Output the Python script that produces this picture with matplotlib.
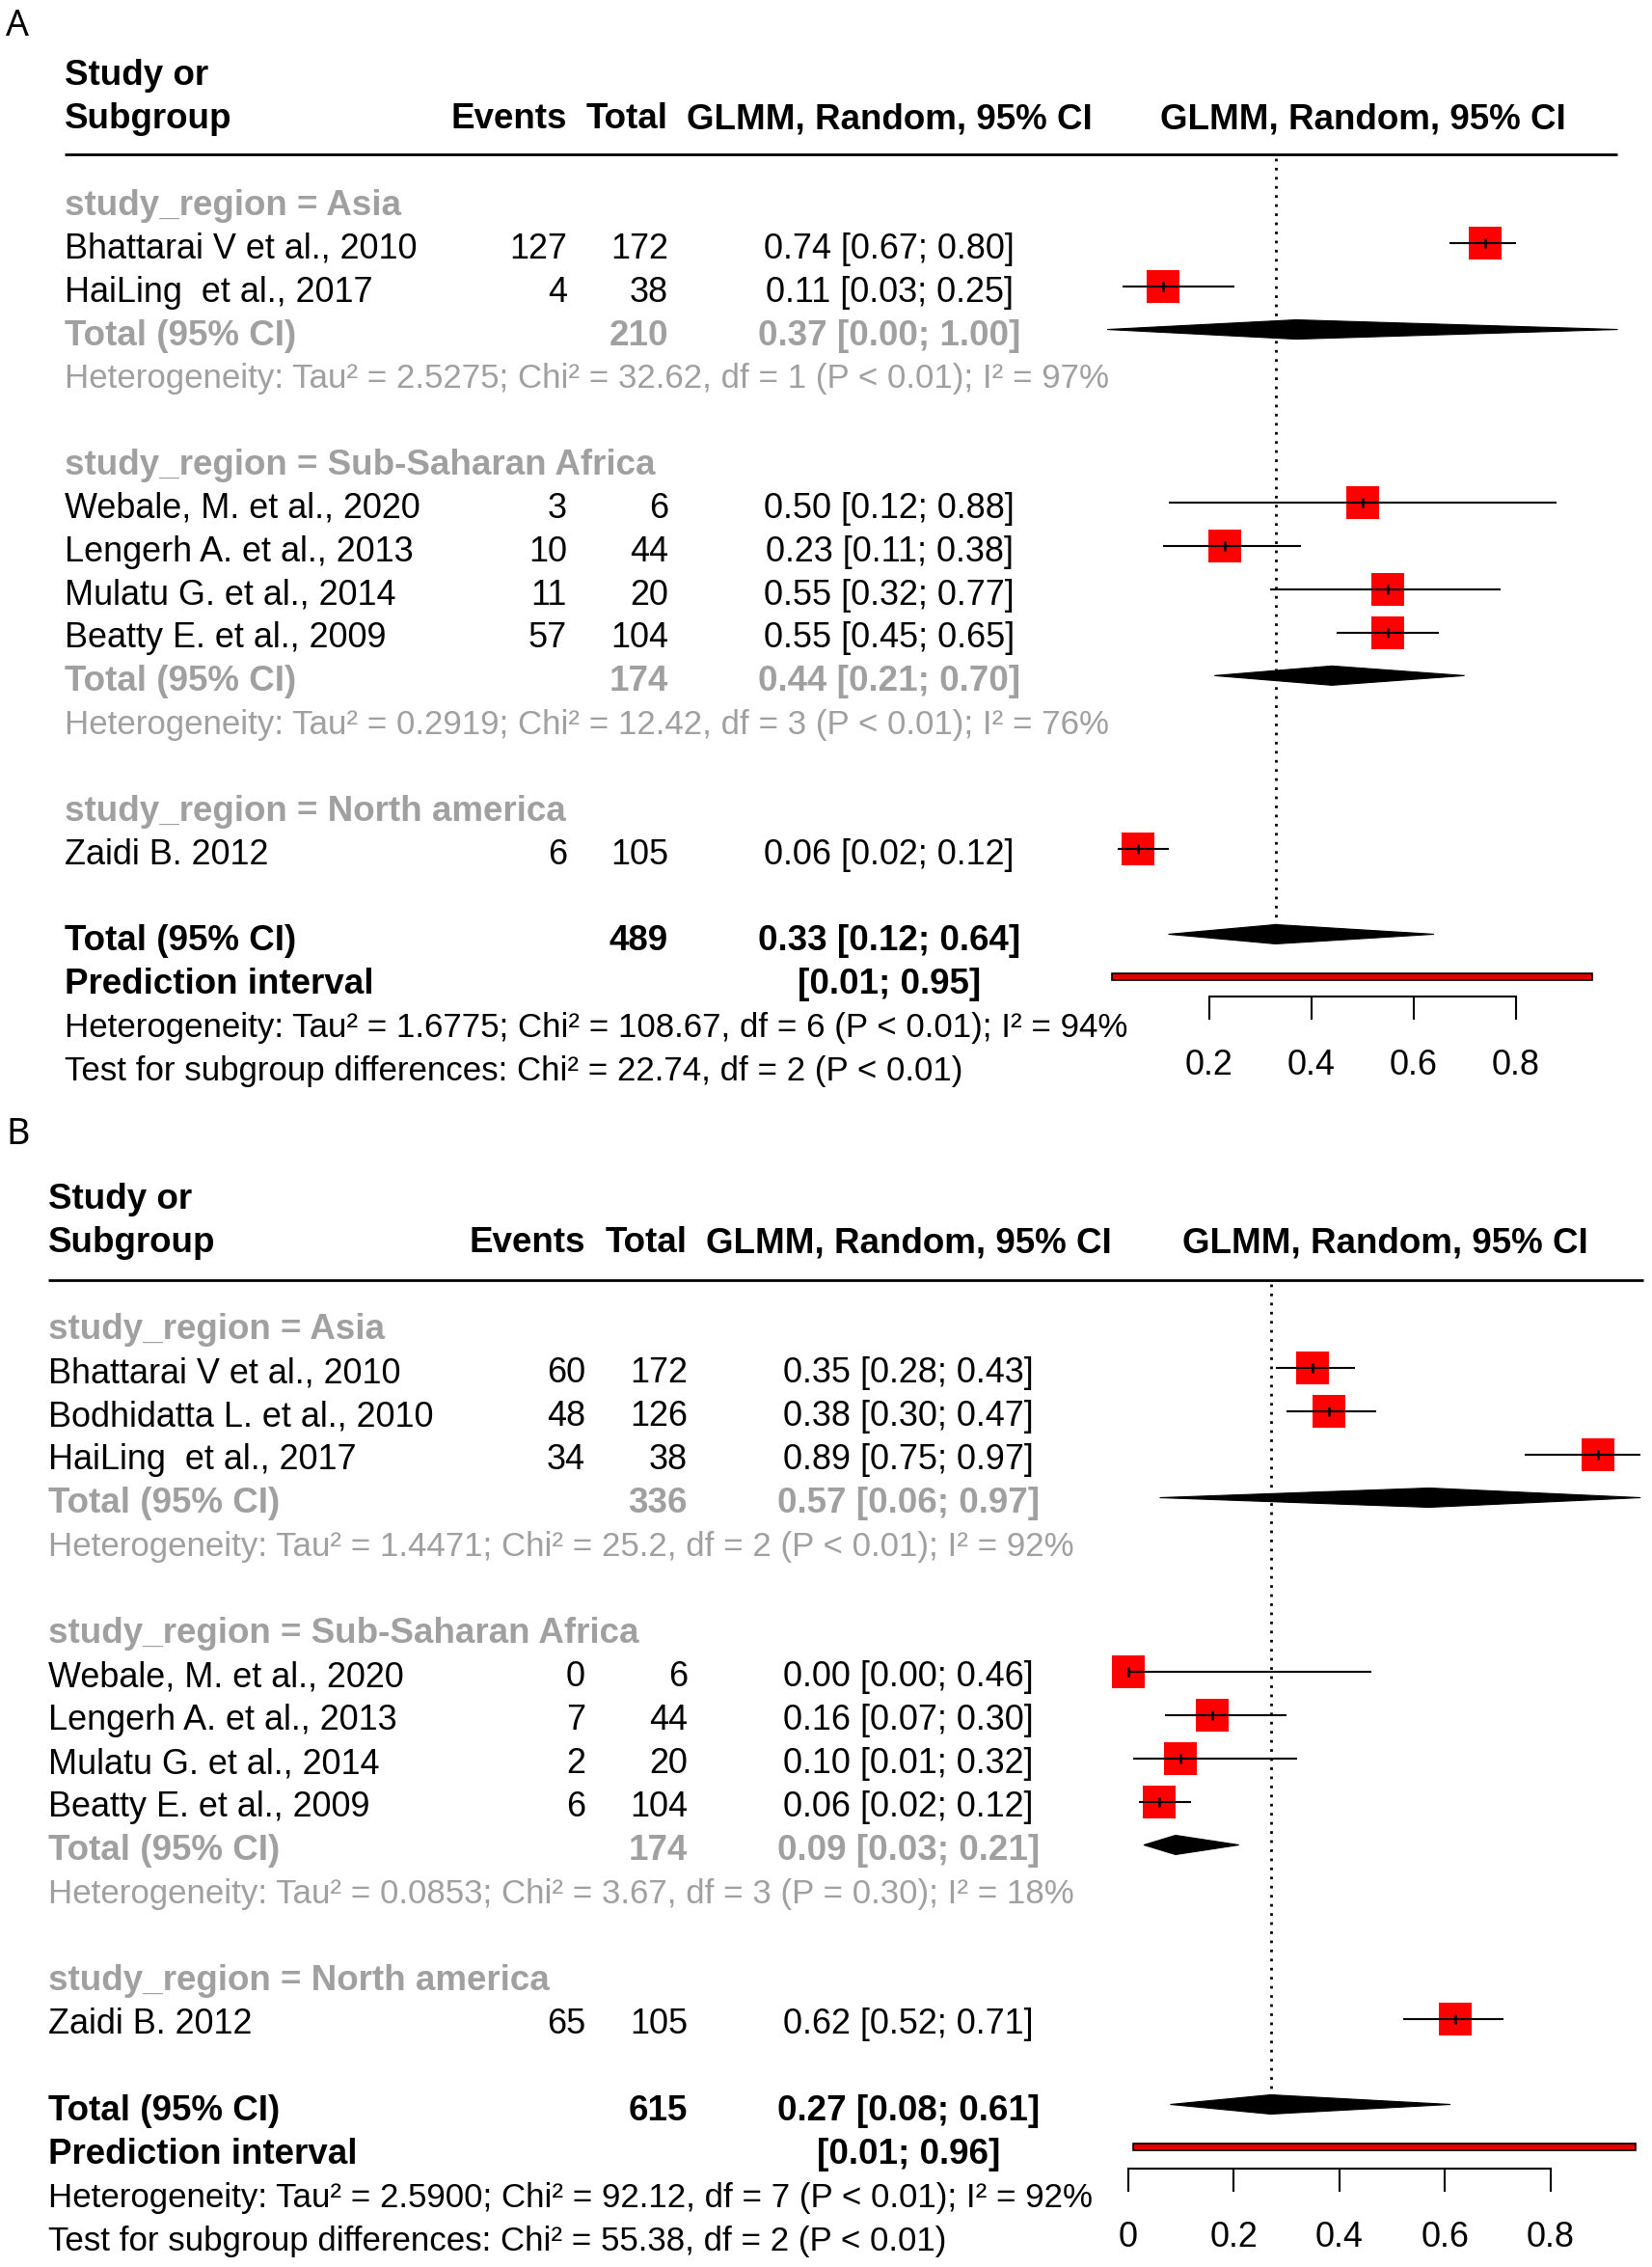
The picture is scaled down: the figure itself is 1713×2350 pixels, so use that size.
"""Forest plots (GLMM, random effects) of pooled proportions by study region."""

import matplotlib
matplotlib.use("Agg")
import matplotlib.pyplot as plt
from matplotlib.patches import Polygon, Rectangle

W, H, DPI = 1713, 2350, 100
FONT = "Liberation Sans"
FS = 25.9        # plain table text
FS_BOLD = 26.5   # bold headers and totals
FS_HET = 25.1    # heterogeneity / test lines
GREY = "#a0a0a0"
RED = "#ff0000"

plt.rcParams["font.family"] = [FONT, "DejaVu Sans"]

# ---------------- panel A data ----------------
A_groups = ["Asia", "Sub-Saharan Africa", "North america"]
A_region = ["Asia", "Asia", "Sub-Saharan Africa", "Sub-Saharan Africa",
            "Sub-Saharan Africa", "Sub-Saharan Africa", "North america"]
A_study = ["Bhattarai V et al., 2010", "HaiLing  et al., 2017",
           "Webale, M. et al., 2020", "Lengerh A. et al., 2013",
           "Mulatu G. et al., 2014", "Beatty E. et al., 2009", "Zaidi B. 2012"]
A_events = [127, 4, 3, 10, 11, 57, 6]
A_total = [172, 38, 6, 44, 20, 104, 105]
A_est = [0.74, 0.11, 0.50, 0.23, 0.55, 0.55, 0.06]
A_lo = [0.67, 0.03, 0.12, 0.11, 0.32, 0.45, 0.02]
A_hi = [0.80, 0.25, 0.88, 0.38, 0.77, 0.65, 0.12]
A_grp_n = [210, 174, None]
A_grp_est = [0.37, 0.44, None]
A_grp_lo = [0.00, 0.21, None]
A_grp_hi = [1.00, 0.70, None]
A_grp_het = ["Tau² = 2.5275; Chi² = 32.62, df = 1 (P < 0.01); I² = 97%",
             "Tau² = 0.2919; Chi² = 12.42, df = 3 (P < 0.01); I² = 76%",
             None]
A_overall = [489, 0.33, 0.12, 0.64]
A_pred = [0.01, 0.95]
A_het = "Tau² = 1.6775; Chi² = 108.67, df = 6 (P < 0.01); I² = 94%"
A_test = "Chi² = 22.74, df = 2 (P < 0.01)"
A_ticks = [0.2, 0.4, 0.6, 0.8]
A_ticklabels = ["0.2", "0.4", "0.6", "0.8"]

# ---------------- panel B data ----------------
B_groups = ["Asia", "Sub-Saharan Africa", "North america"]
B_region = ["Asia", "Asia", "Asia", "Sub-Saharan Africa", "Sub-Saharan Africa",
            "Sub-Saharan Africa", "Sub-Saharan Africa", "North america"]
B_study = ["Bhattarai V et al., 2010", "Bodhidatta L. et al., 2010",
           "HaiLing  et al., 2017", "Webale, M. et al., 2020",
           "Lengerh A. et al., 2013", "Mulatu G. et al., 2014",
           "Beatty E. et al., 2009", "Zaidi B. 2012"]
B_events = [60, 48, 34, 0, 7, 2, 6, 65]
B_total = [172, 126, 38, 6, 44, 20, 104, 105]
B_est = [0.35, 0.38, 0.89, 0.00, 0.16, 0.10, 0.06, 0.62]
B_lo = [0.28, 0.30, 0.75, 0.00, 0.07, 0.01, 0.02, 0.52]
B_hi = [0.43, 0.47, 0.97, 0.46, 0.30, 0.32, 0.12, 0.71]
B_grp_n = [336, 174, None]
B_grp_est = [0.57, 0.09, None]
B_grp_lo = [0.06, 0.03, None]
B_grp_hi = [0.97, 0.21, None]
B_grp_het = ["Tau² = 1.4471; Chi² = 25.2, df = 2 (P < 0.01); I² = 92%",
             "Tau² = 0.0853; Chi² = 3.67, df = 3 (P = 0.30); I² = 18%",
             None]
B_overall = [615, 0.27, 0.08, 0.61]
B_pred = [0.01, 0.96]
B_het = "Tau² = 2.5900; Chi² = 92.12, df = 7 (P < 0.01); I² = 92%"
B_test = "Chi² = 55.38, df = 2 (P < 0.01)"
B_ticks = [0.0, 0.2, 0.4, 0.6, 0.8]
B_ticklabels = ["0", "0.2", "0.4", "0.6", "0.8"]

PANEL_A = dict(groups=A_groups, region=A_region, study=A_study, events=A_events,
               total=A_total, est=A_est, lo=A_lo, hi=A_hi, grp_n=A_grp_n,
               grp_est=A_grp_est, grp_lo=A_grp_lo, grp_hi=A_grp_hi,
               grp_het=A_grp_het, overall=A_overall, pred=A_pred, het=A_het,
               test=A_test, ticks=A_ticks, ticklabels=A_ticklabels)
PANEL_B = dict(groups=B_groups, region=B_region, study=B_study, events=B_events,
               total=B_total, est=B_est, lo=B_lo, hi=B_hi, grp_n=B_grp_n,
               grp_est=B_grp_est, grp_lo=B_grp_lo, grp_hi=B_grp_hi,
               grp_het=B_grp_het, overall=B_overall, pred=B_pred, het=B_het,
               test=B_test, ticks=B_ticks, ticklabels=B_ticklabels)

# layout of each panel in figure pixels
LAYOUT_A = dict(label="A", label_xy=(6, 27), x_left=67, x_events=588, x_total=693,
                x_ci=922, x_fhead=1413, row0=210, pitch=44.85, line_y=160,
                line_x=(67, 1677), x0=1148, ppu=529.5, axis_y=1033)
LAYOUT_B = dict(label="B", label_xy=(6, 1176), x_left=50, x_events=607, x_total=713,
                x_ci=942, x_fhead=1436, row0=1375.5, pitch=45.0, line_y=1327,
                line_x=(50, 1704), x0=1169.6, ppu=548, axis_y=2248)

BASE = 0.36 * FS * DPI / 72.0  # baseline offset below row centre


def ci_text(est, lo, hi):
    return f"{est:.2f} [{lo:.2f}; {hi:.2f}]"


def draw_panel(fig, tax, L, D):
    def put(x, y, s, ha="left", color="black", bold=False, size=None):
        if size is None:
            size = FS_BOLD if bold else FS
        tax.text(x, y + BASE, s, ha=ha, va="baseline", fontsize=size, color=color,
                 fontweight="bold" if bold else "normal")

    tax.text(*L["label_xy"], L["label"], ha="left", va="center", fontsize=27,
             family="Noto Sans", color="black")

    row = lambda k: L["row0"] + k * L["pitch"]
    put(L["x_left"], row(-3), "Study or", bold=True)
    put(L["x_left"], row(-2), "Subgroup", bold=True)
    put(L["x_events"], row(-2), "Events", ha="right", bold=True)
    put(L["x_total"], row(-2), "Total", ha="right", bold=True)
    put(L["x_ci"], row(-2), "GLMM, Random, 95% CI", ha="center", bold=True)
    put(L["x_fhead"], row(-2), "GLMM, Random, 95% CI", ha="center", bold=True)
    tax.hlines(L["line_y"], *L["line_x"], color="black", lw=2)

    fax = fig.add_axes([L["x0"] / W, 0, L["ppu"] / W, 1])
    fax.set_xlim(0, 1)
    fax.set_ylim(H, 0)
    fax.patch.set_visible(False)
    for s in ("left", "right", "top"):
        fax.spines[s].set_visible(False)
    fax.yaxis.set_visible(False)

    k = 0
    for g, grp in enumerate(D["groups"]):
        put(L["x_left"], row(k), f"study_region = {grp}", color=GREY, bold=True)
        k += 1
        idx = [i for i, r in enumerate(D["region"]) if r == grp]
        for i in idx:
            y = row(k) - 3
            put(L["x_left"], row(k), D["study"][i])
            put(L["x_events"], row(k), str(D["events"][i]), ha="right")
            put(L["x_total"], row(k), str(D["total"][i]), ha="right")
            put(L["x_ci"], row(k), ci_text(D["est"][i], D["lo"][i], D["hi"][i]), ha="center")
            fax.plot(D["est"][i], y, marker="s", ms=24.5, color=RED, mew=0,
                     ls="none", zorder=3, clip_on=False)
            fax.hlines(y, D["lo"][i], D["hi"][i], color="black", lw=1.5,
                       zorder=4, clip_on=False)
            fax.plot(D["est"][i], y, marker="|", ms=7, mew=1.8, color="black",
                     ls="none", zorder=5, clip_on=False)
            k += 1
        if len(idx) > 1:
            y = row(k) - 3
            put(L["x_left"], row(k), "Total (95% CI)", color=GREY, bold=True)
            put(L["x_total"], row(k), str(D["grp_n"][g]), ha="right", color=GREY, bold=True)
            put(L["x_ci"], row(k), ci_text(D["grp_est"][g], D["grp_lo"][g], D["grp_hi"][g]),
                ha="center", color=GREY, bold=True)
            fax.add_patch(Polygon([[D["grp_lo"][g], y], [D["grp_est"][g], y - 10],
                                   [D["grp_hi"][g], y], [D["grp_est"][g], y + 10]],
                                  closed=True, facecolor="black", edgecolor="black",
                                  lw=0.8, zorder=4, clip_on=False))
            k += 1
            put(L["x_left"], row(k), "Heterogeneity: " + D["grp_het"][g], color=GREY,
                size=FS_HET)
            k += 1
        k += 1

    n, est, lo, hi = D["overall"]
    y = row(k) - 4
    put(L["x_left"], row(k), "Total (95% CI)", bold=True)
    put(L["x_total"], row(k), str(n), ha="right", bold=True)
    put(L["x_ci"], row(k), ci_text(est, lo, hi), ha="center", bold=True)
    fax.add_patch(Polygon([[lo, y], [est, y - 10], [hi, y], [est, y + 10]],
                          closed=True, facecolor="black", edgecolor="black",
                          lw=0.8, zorder=4, clip_on=False))
    fax.vlines(est, L["line_y"] + 4, y, color="black", lw=2,
               linestyles=(0, (1, 2.4)), zorder=2, clip_on=False)
    k += 1
    plo, phi = D["pred"]
    put(L["x_left"], row(k), "Prediction interval", bold=True)
    put(L["x_ci"], row(k), f"[{plo:.2f}; {phi:.2f}]", ha="center", bold=True)
    fax.add_patch(Rectangle((plo, row(k) - 8.5), phi - plo, 7, facecolor="#e00000",
                            edgecolor="black", lw=1.2, zorder=4, clip_on=False))
    k += 1
    put(L["x_left"], row(k), "Heterogeneity: " + D["het"], size=FS_HET)
    k += 1
    put(L["x_left"], row(k), "Test for subgroup differences: " + D["test"], size=FS_HET)

    fax.spines["bottom"].set_position(("data", L["axis_y"]))
    fax.spines["bottom"].set_bounds(D["ticks"][0], D["ticks"][-1])
    fax.spines["bottom"].set_linewidth(1.5)
    fax.set_xticks(D["ticks"])
    fax.set_xticklabels(D["ticklabels"])
    fax.tick_params(axis="x", direction="out", length=17, width=1.5, pad=22,
                    labelsize=FS, colors="black")


fig = plt.figure(figsize=(W / DPI, H / DPI), dpi=DPI)
tax = fig.add_axes([0, 0, 1, 1])
tax.set_xlim(0, W)
tax.set_ylim(H, 0)
tax.axis("off")

draw_panel(fig, tax, LAYOUT_A, PANEL_A)
draw_panel(fig, tax, LAYOUT_B, PANEL_B)

fig.savefig("out.png", dpi=DPI)
plt.close(fig)
print("Saved out.png")
